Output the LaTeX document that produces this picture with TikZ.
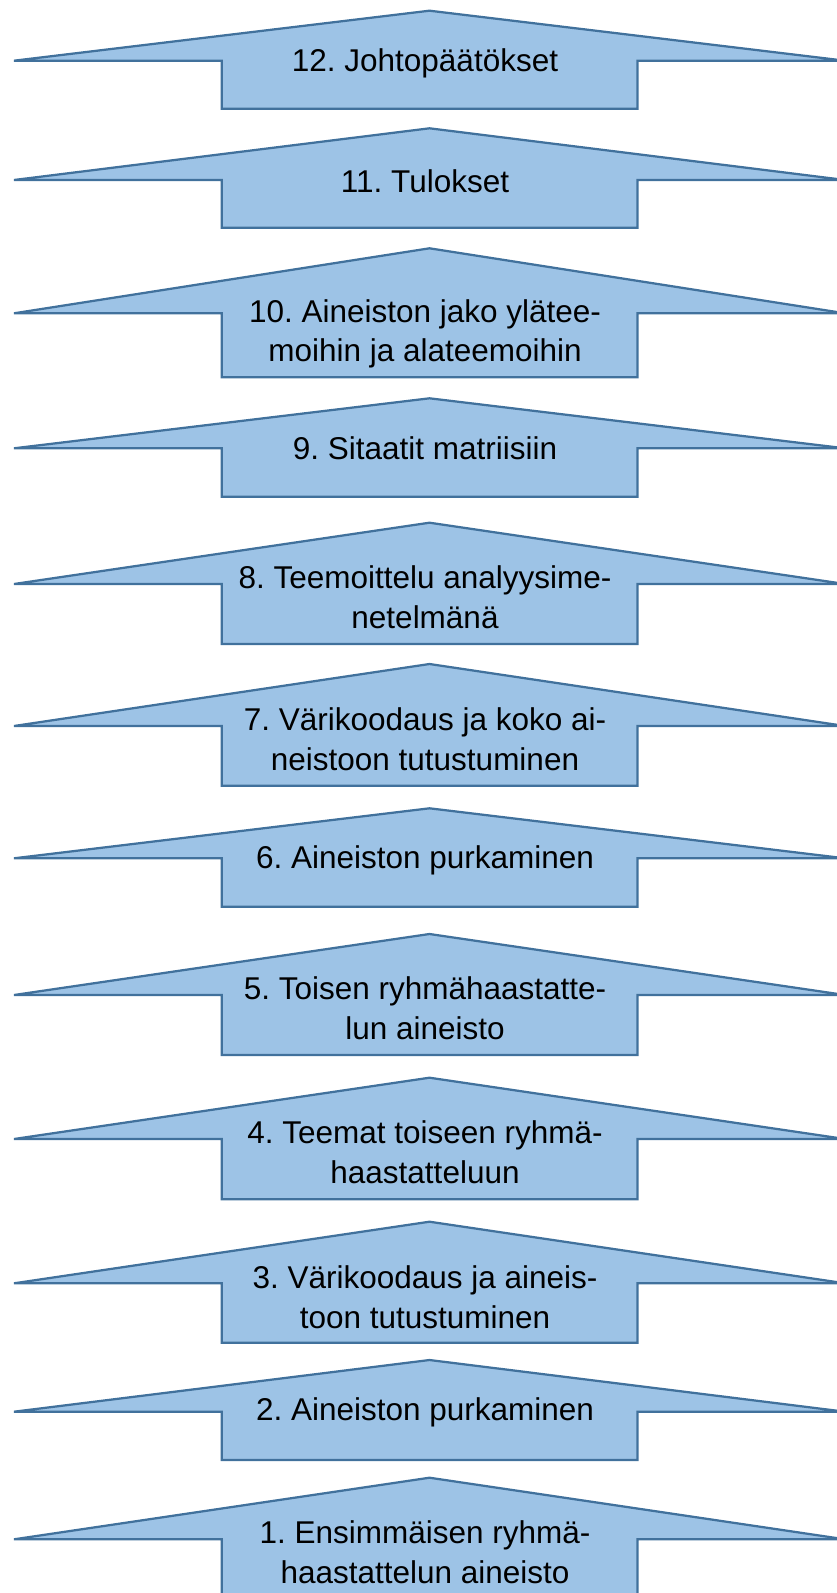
\documentclass[tikz,border=0pt]{standalone}
\usepackage{fontspec}
\setmainfont{Liberation Sans}
\frenchspacing
\definecolor{nuolitayte}{HTML}{9DC3E6}
\definecolor{nuolireuna}{HTML}{41719C}

\tikzset{
  nuoli/.style={fill=nuolitayte,draw=nuolireuna,line width=0.9pt},
  vaiheteksti/.style={anchor=north,align=center,inner sep=0pt,
    font=\fontsize{12.6}{15.8}\selectfont}
}

\begin{document}
\begin{tikzpicture}[x=0.4pt,y=-0.4pt]  % yksi yksikkö = yksi kuvapiste, y kasvaa alaspäin

  % kuvan koko 837 x 1593, reunat mukaan lukien
  \useasboundingbox (0,0) rectangle (837,1593);

  % jokainen rivi: numero / kärki / siivet / pohja / ensimmäisen rivin perusviiva / teksti
  \foreach \nro/\karki/\siipi/\pohja/\viiva/\teksti in {
    12/10.7/60.7/108.7/70.7/{12. Johtopäätökset},
    11/128.3/180/227.7/191.7/{11. Tulokset},
    10/248.3/313.3/377.3/321.7/{10. Aineiston jako ylätee-\\moihin ja alateemoihin},
    9/398.3/448.3/496.7/459/{9. Sitaatit matriisiin},
    8/522.7/584/644/588.3/{8. Teemoittelu analyysime-\\netelmänä},
    7/664/726/785.7/730/{7. Värikoodaus ja koko ai-\\neistoon tutustuminen},
    6/808.3/858.3/906.7/868.3/{6. Aineiston purkaminen},
    5/934/995/1055/999.3/{5. Toisen ryhmähaastatte-\\lun aineisto},
    4/1077.7/1139/1199.3/1143.3/{4. Teemat toiseen ryhmä-\\haastatteluun},
    3/1221.7/1283.3/1342.7/1288.3/{3. Värikoodaus ja aineis-\\toon tutustuminen},
    2/1360/1411.7/1460/1419.5/{2. Aineiston purkaminen},
    1/1477.7/1539.3/1600/1543.3/{1. Ensimmäisen ryhmä-\\haastattelun aineisto}%
  }{
    % kärki ja siivet, sitten varsi
    \draw[nuoli] (14,\siipi) -- (429.5,\karki) -- (845,\siipi) -- (637.5,\siipi)
      -- (637.5,\pohja) -- (221.7,\pohja) -- (221.7,\siipi) -- cycle;

    % teksti: \rule pitää ensimmäisen rivin yläreunan samana
    \node[vaiheteksti] (vaihe\nro) at (425,\viiva-25.2) {\rule{0pt}{0.8em}\teksti};
  }

\end{tikzpicture}
\end{document}
